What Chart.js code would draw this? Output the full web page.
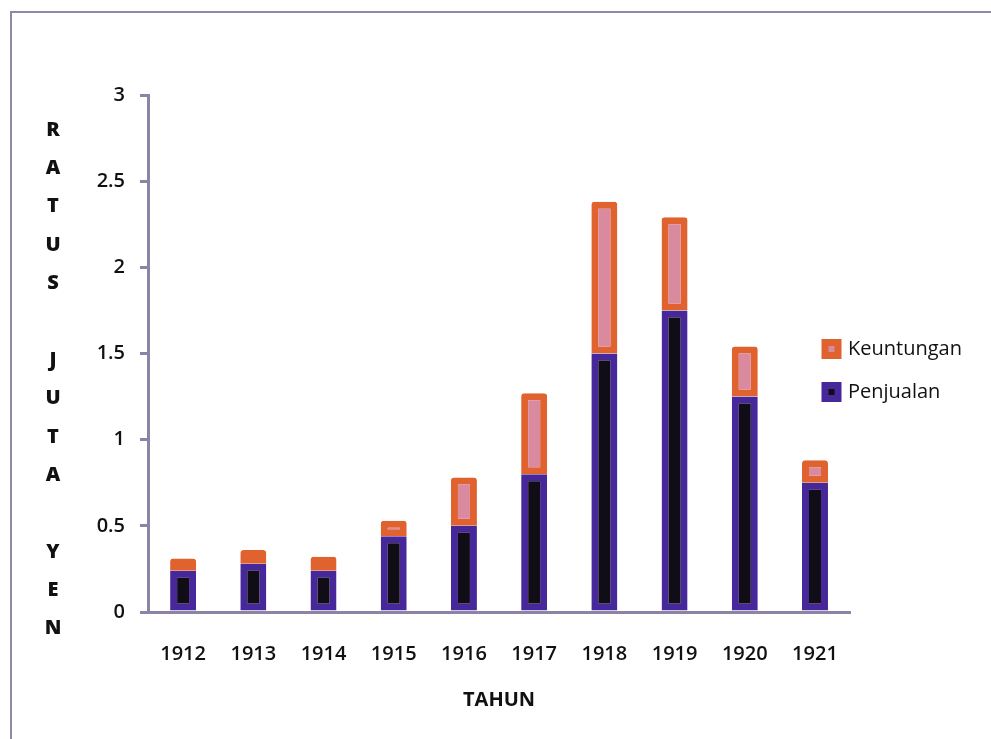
<!DOCTYPE html>
<html>
<head>
<meta charset="utf-8">
<script src="https://cdn.jsdelivr.net/npm/chart.js"></script>
<style>
  html, body { margin: 0; padding: 0; background: #fff; }
  #wrap { position: relative; width: 991px; height: 739px; overflow: hidden; }
  #frame { position: absolute; left: 10px; top: 11px; width: 1000px; height: 800px;
           border-left: 2px solid #8f88a8; border-top: 2px solid #8f88a8; }
  #myChart { position: absolute; left: 0; top: 0; }
</style>
</head>
<body>
<div id="wrap">
  <div id="frame"></div>
  <canvas id="myChart" width="991" height="739"></canvas>
</div>
<script>
// data
var years = ['1912', '1913', '1914', '1915', '1916', '1917', '1918', '1919', '1920', '1921'];
var penjualan = [0.24, 0.28, 0.24, 0.44, 0.50, 0.80, 1.50, 1.75, 1.25, 0.75];
var keuntungan = [0.07, 0.08, 0.08, 0.09, 0.28, 0.47, 0.88, 0.54, 0.29, 0.13];
var yTicks = [0, 0.5, 1, 1.5, 2, 2.5, 3];
var yTitle = ['R', 'A', 'T', 'U', 'S', '', 'J', 'U', 'T', 'A', '', 'Y', 'E', 'N'];

var axisColor = '#8c84a4';
var fontFamily = '"Open Sans", "DejaVu Sans", sans-serif';

// stacked letters for the y axis title
const verticalTitle = {
  id: 'verticalTitle',
  afterDraw(chart) {
    const ctx = chart.ctx;
    const area = chart.chartArea;
    const step = (area.bottom - area.top) * 0.0742;
    ctx.save();
    ctx.font = '800 20px ' + fontFamily;
    ctx.fillStyle = '#111';
    ctx.textAlign = 'center';
    ctx.textBaseline = 'middle';
    for (var i = 0; i < yTitle.length; ++i) {
      ctx.fillText(yTitle[i], 53, area.top + 35 + i * step);
    }
    ctx.restore();
  }
};

// legend sits partly over the plot, like the original
const legendShift = {
  id: 'legendShift',
  afterLayout(chart) {
    const lg = chart.legend;
    const w = lg.width, h = lg.height;
    lg.left = 802;
    lg.right = lg.left + w;
    lg.top = 316;
    lg.bottom = lg.top + h;
  }
};

const data = {
  labels: years,
  datasets: [{
    label: 'Penjualan',
    data: penjualan,
    backgroundColor: '#110d16',
    borderColor: '#47289a',
    borderWidth: 7,
    borderSkipped: false
  }, {
    label: 'Keuntungan',
    data: keuntungan,
    backgroundColor: '#d98a9e',
    borderColor: '#e0622e',
    borderWidth: 7,
    borderSkipped: false,
    borderRadius: { topLeft: 3, topRight: 3 }
  }]
};

const config = {
  type: 'bar',
  data: data,
  options: {
    responsive: false,
    animation: false,
    layout: { padding: { left: 75, top: 95, right: -29, bottom: 0 } },
    datasets: { bar: { categoryPercentage: 1, barPercentage: 0.37 } },
    plugins: {
      tooltip: { enabled: false },
      legend: {
        position: 'right',
        align: 'start',
        reverse: true,
        labels: {
          boxWidth: 13,
          boxHeight: 13,
          padding: 23,
          color: '#111',
          font: { family: fontFamily, size: 20 }
        }
      }
    },
    scales: {
      x: {
        stacked: true,
        grid: { display: false, drawTicks: false },
        border: { display: true, color: axisColor, width: 3 },
        ticks: { color: '#111', padding: 30, font: { family: fontFamily, size: 20, weight: '600' } },
        title: {
          display: true,
          text: 'TAHUN',
          color: '#111',
          font: { family: fontFamily, size: 20, weight: 'bold' },
          padding: { top: 10, bottom: 27 }
        },
        afterFit: function (scale) { scale.height = 739 - 612; }
      },
      y: {
        stacked: true,
        min: 0,
        max: 3,
        grid: { drawOnChartArea: false, drawTicks: true, tickLength: 8, color: axisColor, lineWidth: 3 },
        border: { display: true, color: axisColor, width: 3 },
        ticks: {
          color: '#111',
          padding: 15,
          font: { family: fontFamily, size: 20, weight: '600' },
          callback: function (value) { return String(value); }
        },
        afterBuildTicks: function (scale) {
          scale.ticks = yTicks.map(function (v) { return { value: v }; });
        },
        afterFit: function (scale) { scale.width = 148 - 75; }
      }
    }
  },
  plugins: [verticalTitle, legendShift]
};

var myChart = new Chart(document.getElementById('myChart'), config);
</script>
</body>
</html>
